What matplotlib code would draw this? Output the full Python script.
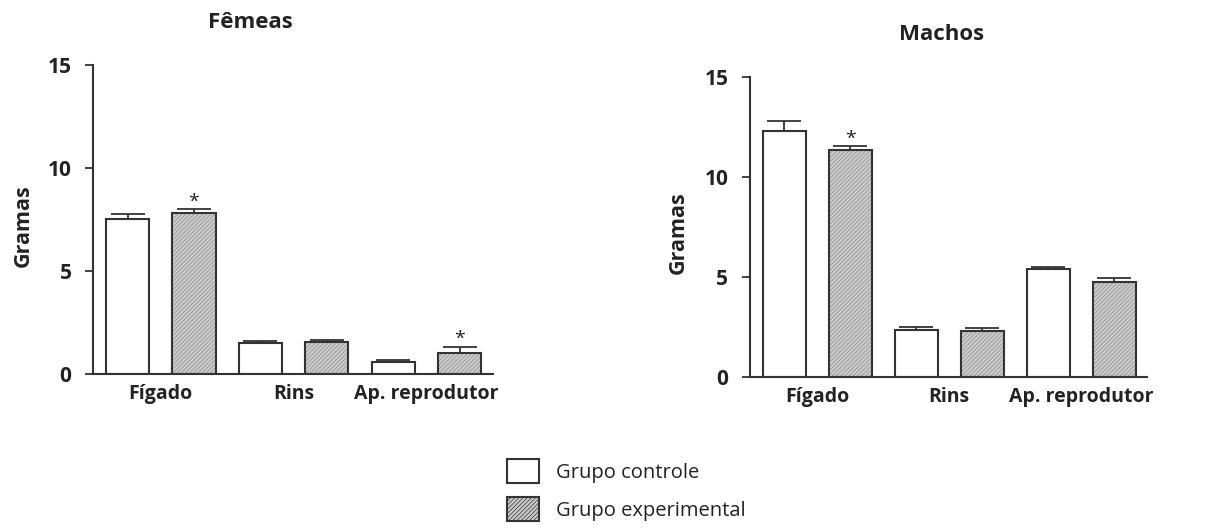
import matplotlib
matplotlib.use("Agg")
import matplotlib.pyplot as plt
import matplotlib.patches as mpatches
import numpy as np

plt.rcParams['font.family'] = ['Open Sans', 'DejaVu Sans']
plt.rcParams['hatch.linewidth'] = 0.5

categorias = ['Fígado', 'Rins', 'Ap. reprodutor']

# Fêmeas
femeas_controle = [7.52, 1.50, 0.60]
femeas_controle_ep = [0.25, 0.10, 0.08]
femeas_experimental = [7.80, 1.55, 1.02]
femeas_experimental_ep = [0.20, 0.10, 0.30]
femeas_sig = [True, False, True]

# Machos
machos_controle = [12.30, 2.35, 5.38]
machos_controle_ep = [0.48, 0.13, 0.14]
machos_experimental = [11.35, 2.30, 4.75]
machos_experimental_ep = [0.20, 0.13, 0.20]
machos_sig = [True, False, False]

yticks = [0, 5, 10, 15]

EDGE = '#333333'
TEXT = '#222222'
FILL_EXP = '#cbcbcb'
HATCH_COLOR = '#909090'


def draw_panel(ax, ctrl, ctrl_err, exp, exp_err, sig):
    x = np.arange(len(categorias))
    w = 0.325
    ax.bar(x, ctrl, w, color='white', edgecolor=EDGE, linewidth=1.5, zorder=2)
    bars = ax.bar(x + 0.5, exp, w, color=FILL_EXP, edgecolor=EDGE, linewidth=1.5,
                  zorder=2)
    for b in bars:
        b.set_hatch('////////')
        b._hatch_color = matplotlib.colors.to_rgba(HATCH_COLOR)
    # only the upper half of the error bars is shown
    ax.errorbar(x, ctrl, yerr=[np.zeros(len(ctrl)), ctrl_err], fmt='none',
                ecolor=EDGE, elinewidth=1.3, capsize=12, capthick=1.3, zorder=1)
    ax.errorbar(x + 0.5, exp, yerr=[np.zeros(len(exp)), exp_err], fmt='none',
                ecolor=EDGE, elinewidth=1.3, capsize=12, capthick=1.3, zorder=1)
    for i, s in enumerate(sig):
        if s:
            ax.annotate('*', (x[i] + 0.5, exp[i] + exp_err[i]), xytext=(0, -1),
                        textcoords='offset points', ha='center', va='bottom',
                        fontsize=14, color=TEXT)
    ax.set_xlim(-0.26, 2.75)
    ax.set_ylim(0, 15)
    ax.set_yticks(yticks)
    ax.set_yticklabels([str(t) for t in yticks], fontsize=15, fontweight='bold',
                       color=TEXT)
    ax.set_xticks(x + 0.25)
    ax.set_xticklabels(categorias, fontsize=14, fontweight='bold', color=TEXT)
    ax.tick_params(axis='x', length=0, pad=7)
    ax.tick_params(axis='y', length=5.5, width=1.3, color=EDGE, pad=10)
    for side in ['top', 'right']:
        ax.spines[side].set_visible(False)
    for side in ['left', 'bottom']:
        ax.spines[side].set_color(EDGE)
        ax.spines[side].set_linewidth(1.5)


fig = plt.figure(figsize=(12.26, 5.28), dpi=100)

ax1 = fig.add_axes([0.0759, 0.2917, 0.3262, 0.5852])
draw_panel(ax1, femeas_controle, femeas_controle_ep, femeas_experimental,
           femeas_experimental_ep, femeas_sig)
ax2 = fig.add_axes([0.6117, 0.2860, 0.3239, 0.5682])
draw_panel(ax2, machos_controle, machos_controle_ep, machos_experimental,
           machos_experimental_ep, machos_sig)

fig.text(250 / 1226, 1 - 22 / 528, 'Fêmeas', ha='center', va='center',
         fontsize=16, fontweight='bold', color=TEXT)
fig.text(942 / 1226, 1 - 35 / 528, 'Machos', ha='center', va='center',
         fontsize=16, fontweight='bold', color=TEXT)
fig.text(23 / 1226, 1 - 226 / 528, 'Gramas', ha='center', va='center',
         rotation=90, fontsize=15.5, fontweight='bold', color=TEXT)
fig.text(678 / 1226, 1 - 233 / 528, 'Gramas', ha='center', va='center',
         rotation=90, fontsize=15.5, fontweight='bold', color=TEXT)

# legend, placed by hand under the panels
h_ctrl = mpatches.Patch(facecolor='white', edgecolor=EDGE, linewidth=1.5,
                        label='Grupo controle')
h_exp = mpatches.Patch(facecolor=FILL_EXP, edgecolor=EDGE, linewidth=1.5,
                       hatch='////////', label='Grupo experimental')
leg = fig.legend(handles=[h_ctrl, h_exp], loc='upper left',
                 bbox_to_anchor=(491 / 1226, 1 - 443 / 528), frameon=False,
                 fontsize=14.5, handlelength=1.6, handleheight=1.45,
                 labelspacing=0.7, handletextpad=0.85, borderpad=0.3)
for t in leg.get_texts():
    t.set_color(TEXT)

fig.savefig('out.png', dpi=100)
